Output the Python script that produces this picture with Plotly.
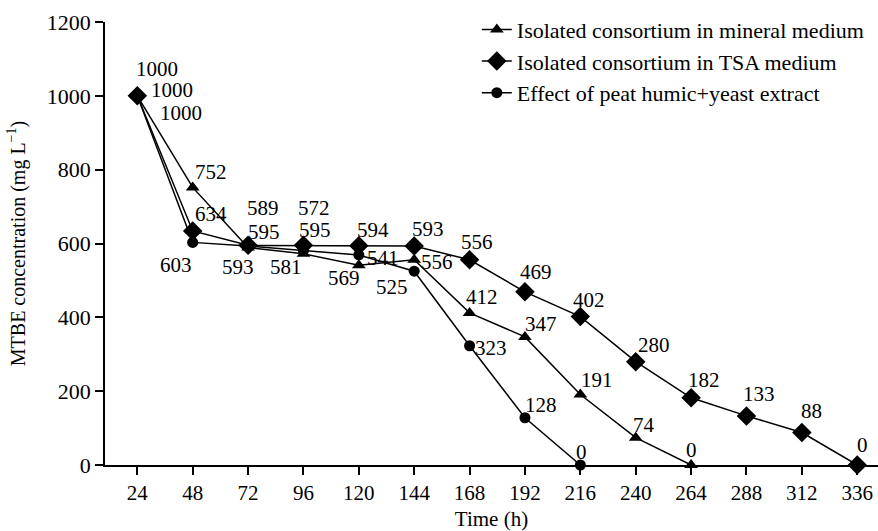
import plotly.graph_objects as go

# ---- data ----
time_h = [24, 48, 72, 96, 120, 144, 168, 192, 216, 240, 264, 288, 312, 336]
mineral = [1000, 752, 589, 572, 541, 556, 412, 347, 191, 74, 0]
tsa = [1000, 634, 595, 595, 594, 593, 556, 469, 402, 280, 182, 133, 88, 0]
peat = [1000, 603, 593, 581, 569, 525, 323, 128, 0]
series_names = [
    "Isolated consortium in mineral medium",
    "Isolated consortium in TSA medium",
    "Effect of peat humic+yeast extract",
]
x_ticks = [24, 48, 72, 96, 120, 144, 168, 192, 216, 240, 264, 288, 312, 336]
y_ticks = [0, 200, 400, 600, 800, 1000, 1200]

# ---- label offsets in px (right, down) ----
mineral_dx = [44, 18, 15, 11, 24, 23, 12, 16, 17, 8, 0]
mineral_dy = [17, -15, -40, -46, -7, 2, -16, -13, -14, -13, -15]
tsa_dx = [35, 18, 16, 12, 14, 14, 7, 11, 9, 18, 13, 13, 10, 5]
tsa_dy = [-6, -17, -13, -15, -16, -17, -18, -20, -17, -17, -18, -22, -22, -20]
peat_dx = [20, -17, -10, -17, -15, -22, 21, 16, 1]
peat_dy = [-27, 23, 21, 16, 23, 16, 2, -13, -13]

FONT = "Liberation Serif"
fig = go.Figure()

series = [
    (mineral, "triangle-up", 12, mineral_dx, mineral_dy),
    (tsa, "diamond", 15, tsa_dx, tsa_dy),
    (peat, "circle", 11, peat_dx, peat_dy),
]

annotations = []
for (vals, sym, size, dxs, dys), name in zip(series, series_names):
    xs = time_h[:len(vals)]
    fig.add_trace(go.Scatter(
        x=xs, y=vals, name=name, mode="lines+markers",
        line=dict(color="black", width=1.5),
        marker=dict(symbol=sym, size=size, color="black"),
        cliponaxis=False,
    ))
    for x, v, dx, dy in zip(xs, vals, dxs, dys):
        annotations.append(dict(
            x=x, y=v, xref="x", yref="y", text=str(v), showarrow=False,
            xshift=dx, yshift=-dy, font=dict(family=FONT, size=21, color="black"),
        ))

fig.update_layout(
    width=878, height=531,
    margin=dict(l=105, r=0, t=22, b=66, autoexpand=False),
    paper_bgcolor="white", plot_bgcolor="white",
    font=dict(family=FONT, size=21, color="black"),
    showlegend=True,
    legend=dict(
        x=0.481, y=1.030, xanchor="left", yanchor="top",
        bgcolor="rgba(0,0,0,0)", font=dict(family=FONT, size=22, color="black"),
        tracegroupgap=0,
    ),
    annotations=annotations,
)
fig.update_xaxes(
    range=[10, 345], tickvals=x_ticks, ticktext=[str(t) for t in x_ticks],
    showgrid=False, zeroline=False, showline=True, linecolor="black", linewidth=1.5,
    ticks="outside", ticklen=8, tickwidth=1.5, tickcolor="black",
    tickfont=dict(family=FONT, size=21, color="black"),
    title=dict(text="Time (h)", font=dict(family=FONT, size=21, color="black"), standoff=10),
)
fig.update_yaxes(
    range=[0, 1200], tickvals=y_ticks,
    showgrid=False, zeroline=False, showline=True, linecolor="black", linewidth=1.5,
    ticks="outside", ticklen=8, tickwidth=1.5, tickcolor="black",
    tickfont=dict(family=FONT, size=22, color="black"),
    title=dict(text="MTBE concentration (mg L<sup>\u22121</sup>)",
               font=dict(family=FONT, size=20, color="black"), standoff=16),
)

fig.write_html("out.html", config={"displayModeBar": False},
               post_script="document.body.style.margin='0px';")
